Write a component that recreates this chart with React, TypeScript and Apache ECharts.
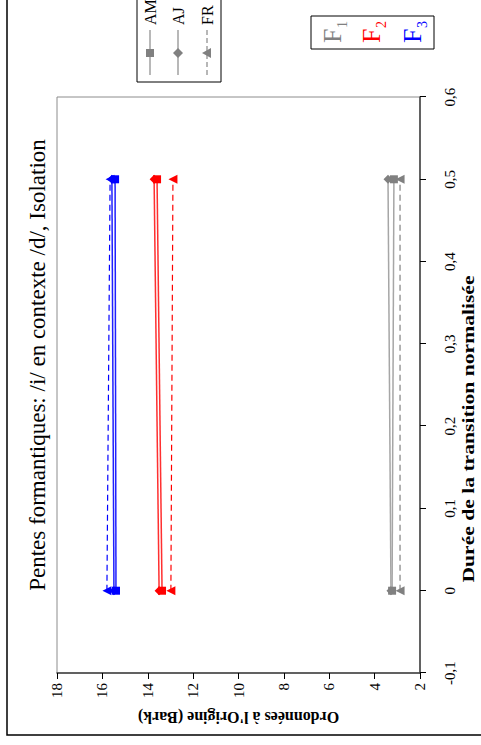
import React, { useEffect, useRef } from "react";
import * as echarts from "echarts";

// ---- data ----
const durations = [0, 0.5];
const speakers = ["AM", "AJ", "FR"];
const formants = ["F1", "F2", "F3"];
const f1AM = [3.23, 3.15];
const f1AJ = [3.28, 3.41];
const f1FR = [2.88, 2.88];
const f2AM = [13.37, 13.59];
const f2AJ = [13.5, 13.72];
const f2FR = [12.98, 12.89];
const f3AM = [15.4, 15.44];
const f3AJ = [15.49, 15.58];
const f3FR = [15.8, 15.66];
const xTickLabels = ["-0,1", "0", "0,1", "0,2", "0,3", "0,4", "0,5", "0,6"];
const yTickLabels = ["2", "4", "6", "8", "10", "12", "14", "16", "18"];

const FONT = '"Liberation Serif", "Times New Roman", serif';
const W = 745;
const H = 481;

const formantColors = ["#808080", "#ff0000", "#0000ff"];
const lineColors = ["#a6a6a6", "#ff3030", "#2020ff"];
const symbols = ["rect", "diamond", "triangle"];
const symbolSizes = [8, 9, 9];

export default function App() {
  const ref = useRef<HTMLDivElement>(null);
  useEffect(() => {
    if (!ref.current) return;
    const chart = echarts.init(ref.current, undefined, { renderer: "svg", width: W, height: H });
    const values = [
      [f1AM, f1AJ, f1FR],
      [f2AM, f2AJ, f2FR],
      [f3AM, f3AJ, f3FR],
    ];
    const series: any[] = [];
    formants.forEach((f, fi) => {
      speakers.forEach((s, si) => {
        series.push({
          name: s + " " + f,
          type: "line",
          data: durations.map((d, i) => [d, values[fi][si][i]]),
          symbol: symbols[si],
          symbolSize: symbolSizes[si],
          itemStyle: { color: formantColors[fi] },
          lineStyle: {
            color: si === 2 ? formantColors[fi] : lineColors[fi],
            width: si === 2 ? 1.2 : 1.5,
            type: si === 2 ? [6, 4] : "solid",
          },
          z: 3 - si,
        });
      });
    });

    const legendRows = [150, 178, 207];
    const legendGraphics: any[] = [];
    legendRows.forEach((v, i) => {
      legendGraphics.push({
        type: "line",
        shape: { x1: 670, y1: v, x2: 715, y2: v },
        style: { stroke: "#a0a0a0", lineWidth: 1.5, lineDash: i === 2 ? [5, 3] : null },
      });
      const cx = 692;
      if (i === 0) {
        legendGraphics.push({ type: "rect", shape: { x: cx - 4, y: v - 4, width: 8, height: 8 }, style: { fill: "#808080" } });
      } else if (i === 1) {
        legendGraphics.push({
          type: "polygon",
          shape: { points: [[cx, v - 5], [cx + 5, v], [cx, v + 5], [cx - 5, v]] },
          style: { fill: "#808080" },
        });
      } else {
        legendGraphics.push({
          type: "polygon",
          shape: { points: [[cx - 5, v + 4], [cx + 5, v + 4], [cx, v - 5]] },
          style: { fill: "#808080" },
        });
      }
      legendGraphics.push({
        type: "text",
        x: 720,
        y: v,
        style: { text: speakers[i], font: "16px " + FONT, fill: "#000", textVerticalAlign: "middle", textAlign: "left" },
      });
    });

    const fCenters = [332, 371, 412];
    const fGraphics: any[] = [];
    fCenters.forEach((v, i) => {
      fGraphics.push({
        type: "text",
        x: 702,
        y: v,
        style: { text: "F", font: "26px " + FONT, fill: formantColors[i], textVerticalAlign: "middle", textAlign: "left" },
      });
      fGraphics.push({
        type: "text",
        x: 717,
        y: v + 10,
        style: { text: String(i + 1), font: "14px " + FONT, fill: formantColors[i], textVerticalAlign: "middle", textAlign: "left" },
      });
    });

    chart.setOption({
      animation: false,
      backgroundColor: "#ffffff",
      textStyle: { fontFamily: FONT },
      grid: { left: 72, right: 97, top: 57, bottom: 61, show: true, borderColor: "#8c8c8c", borderWidth: 1 },
      xAxis: {
        type: "value",
        min: -0.1,
        max: 0.6,
        interval: 0.1,
        axisLine: { show: true, onZero: false, lineStyle: { color: "#404040", width: 1.5 } },
        axisTick: { show: true, length: 6, lineStyle: { color: "#000" } },
        axisLabel: {
          fontFamily: FONT,
          fontSize: 15,
          color: "#000",
          margin: 22,
          formatter: (v: number) => xTickLabels[Math.round(v * 10) + 1] ?? "",
        },
        splitLine: { show: false },
      },
      yAxis: {
        type: "value",
        min: 2,
        max: 18,
        interval: 2,
        name: "Ordonnées à l'Origine (Bark)",
        nameLocation: "middle",
        nameGap: 36,
        nameRotate: 90,
        nameTextStyle: { fontFamily: FONT, fontSize: 16, fontWeight: "bold", color: "#000" },
        axisLine: { show: true, onZero: false, lineStyle: { color: "#404040", width: 1.5 } },
        axisTick: { show: true, length: 6, lineStyle: { color: "#000" } },
        axisLabel: {
          fontFamily: FONT,
          fontSize: 15,
          color: "#000",
          margin: 10,
          formatter: (v: number) => yTickLabels[Math.round((v - 2) / 2)] ?? "",
        },
        splitLine: { show: false },
      },
      graphic: [
        {
          type: "rect",
          shape: { x: 10, y: 7, width: 760, height: 490 },
          style: { fill: "none", stroke: "#000", lineWidth: 1.5 },
          silent: true,
        },
        {
          type: "text",
          x: 380,
          y: 37,
          style: {
            text: "Pentes formantiques: /i/ en contexte /d/, Isolation",
            font: "23px " + FONT,
            fill: "#000",
            textAlign: "center",
            textVerticalAlign: "middle",
          },
        },
        {
          type: "text",
          x: 316,
          y: 469,
          scaleX: 1.35,
          style: {
            text: "Durée de la transition normalisée",
            font: "bold 16px " + FONT,
            fill: "#000",
            textAlign: "center",
            textVerticalAlign: "middle",
          },
        },
        {
          type: "rect",
          shape: { x: 663, y: 137, width: 100, height: 84 },
          style: { fill: "#fff", stroke: "#000", lineWidth: 1 },
        },
        ...legendGraphics,
        {
          type: "rect",
          shape: { x: 696, y: 311, width: 33, height: 123 },
          style: { fill: "#fff", stroke: "#000", lineWidth: 1 },
        },
        ...fGraphics,
      ],
      series,
    });
    return () => chart.dispose();
  }, []);

  return (
    <div style={{ position: "fixed", left: 0, top: 0, width: 481, height: 745, overflow: "hidden", background: "#fff" }}>
      <div
        ref={ref}
        style={{
          position: "absolute",
          left: 0,
          top: 0,
          width: W,
          height: H,
          transformOrigin: "0 0",
          transform: "translate(0px, 745px) rotate(-90deg)",
        }}
      />
    </div>
  );
}
